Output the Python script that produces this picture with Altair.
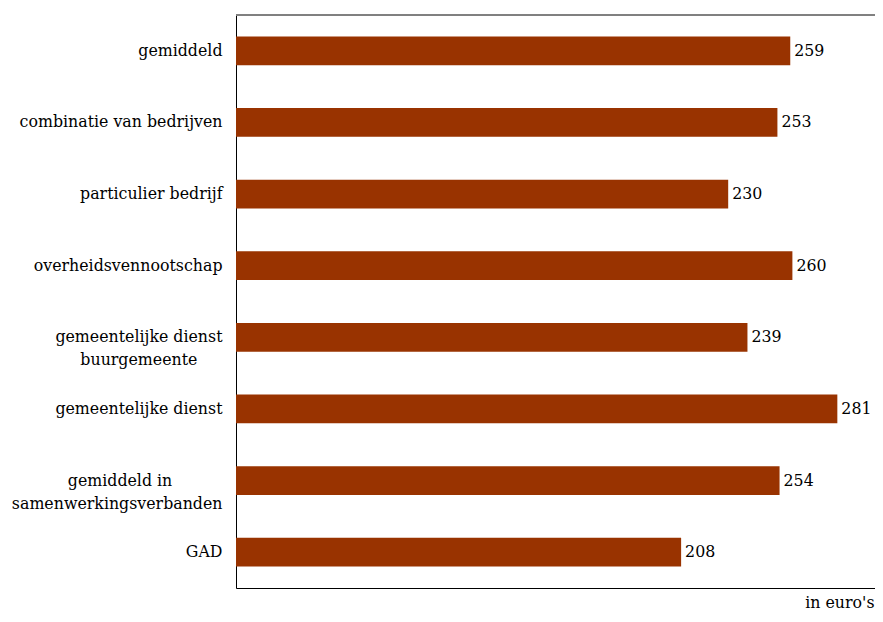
import altair as alt
import pandas as pd

NB = "\u00a0"
WJ = "\u2060"
categories = [
    "gemiddeld",
    "combinatie van bedrijven",
    "particulier bedrijf",
    "overheidsvennootschap",
    "gemeentelijke dienst\n" + "buurgemeente" + NB * 5 + WJ,
    "gemeentelijke dienst",
    "gemiddeld in" + NB * 10 + WJ + "\nsamenwerkingsverbanden",
    "GAD",
]
values = [259, 253, 230, 260, 239, 281, 254, 208]

df = pd.DataFrame({"cat": categories, "val": values})

FONT = "DejaVu Serif"
FS = 15.8
W, H = 639, 573
XMAX = 298.6

base = alt.Chart(df)

bars = base.mark_bar(color="#993300").encode(
    y=alt.Y(
        "cat:N",
        sort=None,
        title=None,
        scale=alt.Scale(paddingInner=0.6, paddingOuter=0.3),
        axis=alt.Axis(
            ticks=False,
            labelPadding=14,
            labelFont=FONT,
            labelFontSize=FS,
            labelColor="black",
            labelLimit=300,
            labelLineHeight=23,
            labelExpr="split(datum.label, '\\n')",
            domainColor="black",
            domainWidth=1,
        ),
    ),
    x=alt.X(
        "val:Q",
        scale=alt.Scale(domain=[0, XMAX], nice=False),
        axis=alt.Axis(
            labels=False,
            ticks=False,
            grid=False,
            domainColor="black",
            domainWidth=1,
            title="in euro's",
            titleFont=FONT,
            titleFontSize=FS,
            titleFontWeight="normal",
            titleColor="black",
            titleAlign="right",
            titleBaseline="alphabetic",
            titleX=W - 1,
            titleY=19,
        ),
    ),
)

text = base.mark_text(
    align="left", baseline="middle", dx=4, font=FONT, fontSize=FS, color="black"
).encode(
    y=alt.Y("cat:N", sort=None),
    x="val:Q",
    text="val:Q",
)

topline = base.mark_rule(color="#808080", strokeWidth=1).encode(
    y=alt.value(0), x=alt.value(0), x2=alt.value(W)
)

chart = (
    alt.layer(bars, text, topline)
    .properties(
        width=W,
        height=H,
        autosize=alt.AutoSizeParams(type="none"),
        padding={"left": 228, "top": 7, "right": 0, "bottom": 24},
    )
    .configure_view(stroke=None)
    .configure(background="white")
)

chart.save("out.html", embed_options={"renderer": "svg", "actions": False})
